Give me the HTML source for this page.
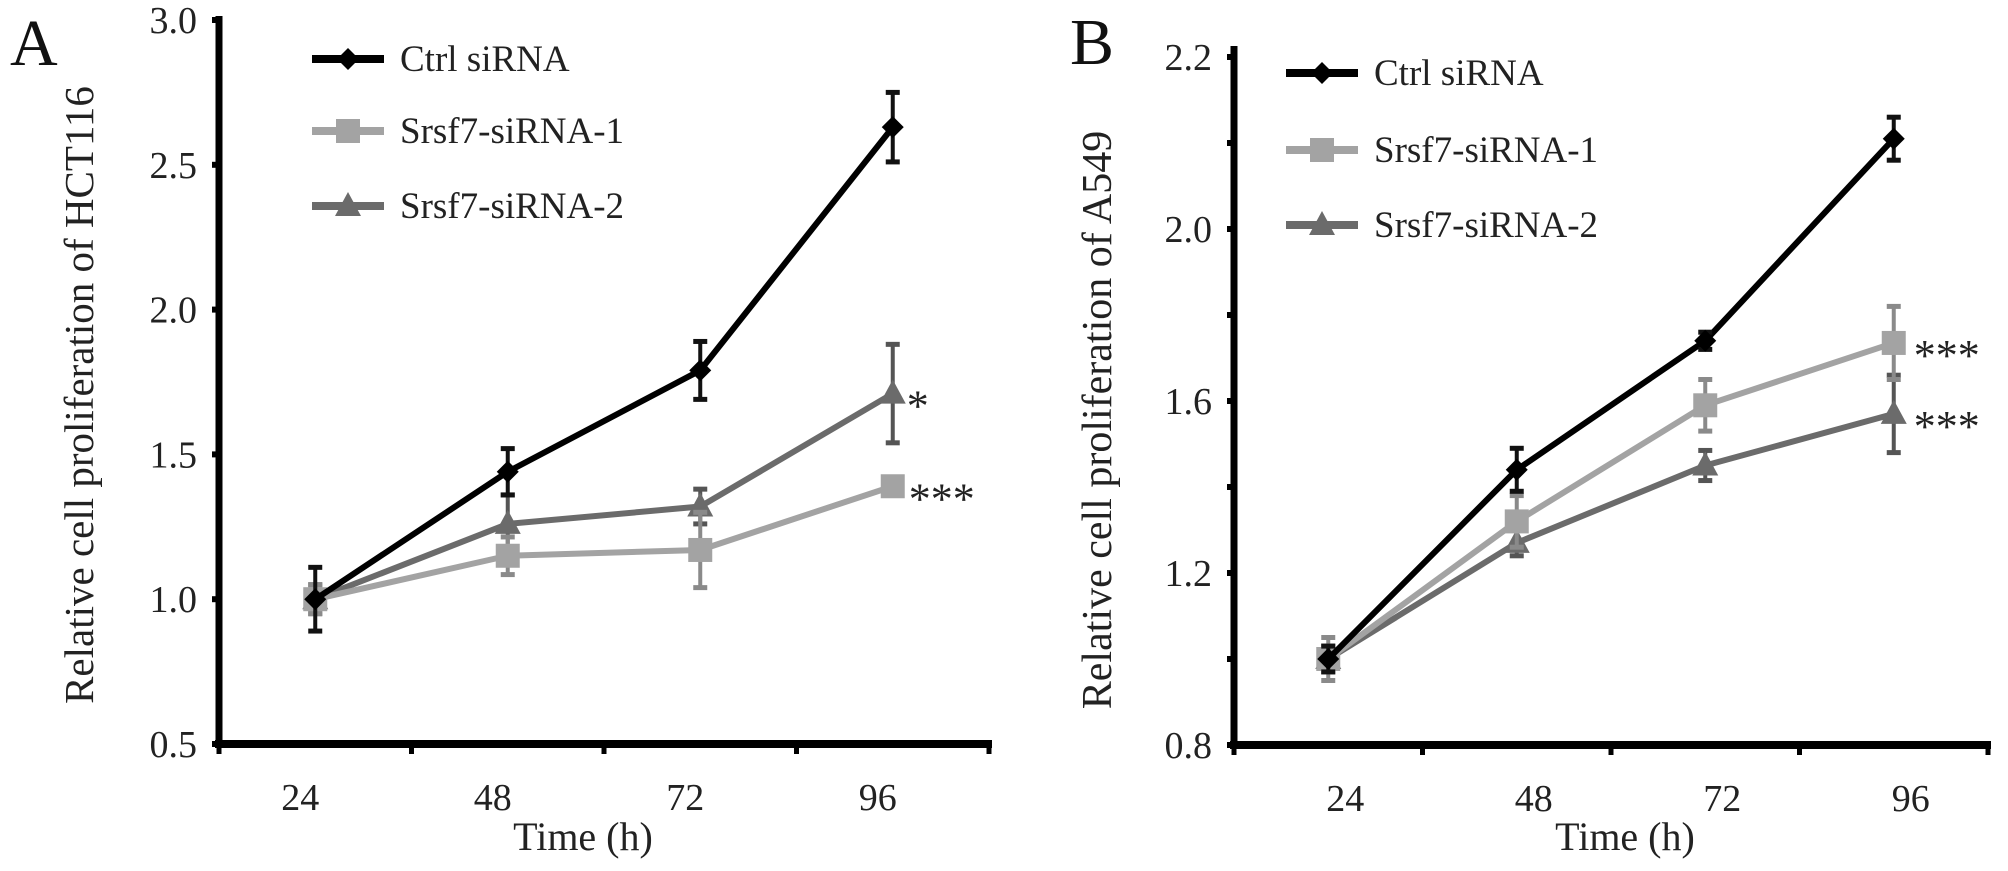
<!DOCTYPE html>
<html><head><meta charset="utf-8">
<style>
html,body{margin:0;padding:0;background:#fff;}
svg{display:block;font-family:"Liberation Serif",serif;}
</style></head>
<body>
<svg id="fig" width="2008" height="871" viewBox="0 0 2008 871" xmlns="http://www.w3.org/2000/svg"></svg>
<script>
const categories = ["24","48","72","96"];
// Panel A (HCT116)
const aCtrl = [1.0, 1.44, 1.79, 2.63];
const aCtrlErr = [0.11, 0.08, 0.10, 0.12];
const aS1 = [1.0, 1.15, 1.17, 1.39];
const aS1Err = [0.05, 0.065, 0.13, 0.02];
const aS2 = [1.0, 1.26, 1.32, 1.71];
const aS2Err = [0.05, 0.10, 0.06, 0.17];
const aTicks = [0.5, 1.0, 1.5, 2.0, 2.5, 3.0];
const aTickLabels = ["0.5","1.0","1.5","2.0","2.5","3.0"];
// Panel B (A549)
const bCtrl = [1.0, 1.44, 1.74, 2.21];
const bCtrlErr = [0.03, 0.05, 0.02, 0.05];
const bS1 = [1.0, 1.32, 1.59, 1.735];
const bS1Err = [0.05, 0.06, 0.06, 0.085];
const bS2 = [1.0, 1.27, 1.45, 1.57];
const bS2Err = [0.03, 0.03, 0.035, 0.09];
const bTicks = [0.8, 1.2, 1.6, 2.0, 2.4];
const bTickLabels = ["0.8","1.2","1.6","2.0","2.2"];
const bMinorTicks = [1.0, 1.4, 1.8, 2.2];
const aMinorTicks = [];
const legendLabels = ["Ctrl siRNA","Srsf7-siRNA-1","Srsf7-siRNA-2"];

const NS = "http://www.w3.org/2000/svg";
const svg = document.getElementById("fig");
function mk(tag, attrs, parent){
  const e = document.createElementNS(NS, tag);
  for (const k in attrs) e.setAttribute(k, attrs[k]);
  (parent||svg).appendChild(e);
  return e;
}
function marker(g, kind, x, y, color){
  let m;
  if (kind === "diamond") m = mk("polygon",{points:`${x},${y-11} ${x+11},${y} ${x},${y+11} ${x-11},${y}`,fill:color},g);
  else if (kind === "square") m = mk("rect",{x:x-12,y:y-12,width:24,height:24,fill:color},g);
  else m = mk("polygon",{points:`${x},${y-14} ${x+13},${y+10} ${x-13},${y+10}`,fill:color},g);
  return m;
}

function panel(cfg){
  const g = mk("g",{});
  
  
  const y = v => cfg.y0 - (v - cfg.vmin) * cfg.ppu;
  const band = (cfg.xEnd - cfg.xAxis) / categories.length;
  const x = i => cfg.xAxis + band * (i + 0.5);

  const ya = mk("line",{x1:cfg.xAxis,y1:cfg.yTop,x2:cfg.xAxis,y2:cfg.y0+3,stroke:"#000","stroke-width":7},g);
  
  
  const xa = mk("line",{x1:cfg.xAxis-4,y1:cfg.y0,x2:cfg.xEnd+3,y2:cfg.y0,stroke:"#000","stroke-width":8},g);
  
  
  for (let i=0;i<=categories.length;i++){
    const tx = cfg.xAxis + band*i;
    mk("line",{x1:tx,y1:cfg.y0,x2:tx,y2:cfg.y0+10,stroke:"#000","stroke-width":5},g);
  }
  cfg.ticks.forEach((t,i)=>{
    mk("line",{x1:cfg.xAxis-7,y1:y(t),x2:cfg.xAxis,y2:y(t),stroke:"#000","stroke-width":6},g);
    const tl = mk("text",{x:cfg.xAxis-22,y:y(t)+13,"text-anchor":"end","font-size":38,fill:"#222"},g);
    tl.textContent = cfg.tickLabels[i];
    
    
  });
  cfg.minor.forEach(t=>{
    mk("line",{x1:cfg.xAxis-7,y1:y(t),x2:cfg.xAxis,y2:y(t),stroke:"#000","stroke-width":6},g);
  });
  categories.forEach((c,i)=>{
    const t = mk("text",{x:x(i)+cfg.labelOff,y:cfg.y0+66,"text-anchor":"middle","font-size":38,fill:"#222"},g);
    t.textContent = c;
    
    
  });
  const xt = mk("text",{x:cfg.xTitleX,y:850,"text-anchor":"middle","font-size":40,fill:"#222"},g);
  xt.textContent = "Time (h)";
  
  
  const ytt = mk("text",{x:0,y:0,"text-anchor":"middle","font-size":cfg.yTitleSize,fill:"#222",transform:`translate(${cfg.yTitleX},${cfg.yTitleY}) rotate(-90)`},g);
  ytt.textContent = cfg.yTitle;
  
  
  const pl = mk("text",{x:cfg.letterX,y:cfg.letterY,"font-size":66,fill:"#111"},g);
  pl.textContent = cfg.letter;
  
  

  const series = [
    {vals:cfg.s2, err:cfg.s2e, color:"#6b6b6b", kind:"triangle", name:"series-srsf7-sirna-2"},
    {vals:cfg.s1, err:cfg.s1e, color:"#a3a3a3", kind:"square", name:"series-srsf7-sirna-1"},
    {vals:cfg.ctrl, err:cfg.ctrle, color:"#000", kind:"diamond", name:"series-ctrl-sirna"}
  ];
  series.forEach(s=>{
    const sg = mk("g",{},g);
    
    
    const pts = s.vals.map((v,i)=>`${x(i)},${y(v)}`).join(" ");
    const ln = mk("polyline",{points:pts,fill:"none",stroke:s.color,"stroke-width":6,"stroke-linejoin":"round"},sg);
    
    
    s.vals.forEach((v,i)=>{
      const ec = s.color === "#a3a3a3" ? "#8a8a8a" : (s.color==="#000"?"#111":"#555");
      const e1 = mk("line",{x1:x(i),y1:y(v+s.err[i]),x2:x(i),y2:y(v-s.err[i]),stroke:ec,"stroke-width":4},sg);
      
      
      mk("line",{x1:x(i)-7,y1:y(v+s.err[i]),x2:x(i)+7,y2:y(v+s.err[i]),stroke:ec,"stroke-width":5},sg);
      mk("line",{x1:x(i)-7,y1:y(v-s.err[i]),x2:x(i)+7,y2:y(v-s.err[i]),stroke:ec,"stroke-width":5},sg);
      const m = marker(sg, s.kind, x(i), y(v), s.color);
      
      
    });
  });
  cfg.sig.forEach(sg=>{
    const arr = sg.series;
    const t = mk("text",{x:x(3)+sg.dx,y:y(arr[3])+27,"font-size":44,fill:"#222"},g);
    t.textContent = sg.text;
    
    
  });
  const lg = mk("g",{},g);
  
  
  const lcol = ["#000","#a3a3a3","#6b6b6b"], lk = ["diamond","square","triangle"];
  legendLabels.forEach((lab,i)=>{
    const ly = cfg.legY[i];
    const eg = mk("g",{},lg);
    
    
    mk("line",{x1:cfg.legX,y1:ly,x2:cfg.legX+72,y2:ly,stroke:lcol[i],"stroke-width":8},eg);
    marker(eg, lk[i], cfg.legX+36, ly, lcol[i]);
    const t = mk("text",{x:cfg.legX+88,y:ly+12,"font-size":37,fill:"#222"},eg);
    t.textContent = lab;
  });
}

panel({name:"panel-a-hct116", xAxis:219, xEnd:989, y0:744, yTop:16, vmin:0.5, ppu:289.6,
  ticks:aTicks, tickLabels:aTickLabels, minor:aMinorTicks, labelOff:-15,
  ctrl:aCtrl, ctrle:aCtrlErr, s1:aS1, s1e:aS1Err, s2:aS2, s2e:aS2Err,
  xTitleX:583, yTitleX:93, yTitleY:395, yTitleSize:41, yTitle:"Relative cell proliferation of HCT116",
  letter:"A", letterX:10, letterY:65, legX:312, legY:[59,131,206],
  sig:[{series:aS2,text:"*",dx:14},{series:aS1,text:"***",dx:16}]});
panel({name:"panel-b-a549", xAxis:1234, xEnd:1988, y0:745, yTop:46, vmin:0.8, ppu:430,
  ticks:bTicks, tickLabels:bTickLabels, minor:bMinorTicks, labelOff:17,
  ctrl:bCtrl, ctrle:bCtrlErr, s1:bS1, s1e:bS1Err, s2:bS2, s2e:bS2Err,
  xTitleX:1625, yTitleX:1111, yTitleY:420, yTitleSize:42, yTitle:"Relative cell proliferation of A549",
  letter:"B", letterX:1070, letterY:64, legX:1286, legY:[73,150,225],
  sig:[{series:bS1,text:"***",dx:20},{series:bS2,text:"***",dx:20}]});
</script>
</body></html>
